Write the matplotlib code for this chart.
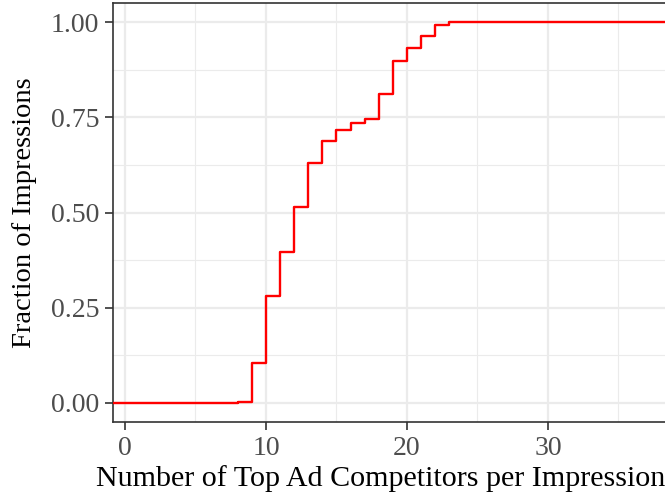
import numpy as np
import matplotlib
matplotlib.use('Agg')
import matplotlib.pyplot as plt
from matplotlib.ticker import MultipleLocator

plt.rcParams['font.family'] = ['Liberation Serif', 'DejaVu Serif']

# ECDF levels of competitors per impression
competitors = [8, 9, 10, 11, 12, 13, 14, 15, 16, 17, 18, 19, 20, 21, 22, 23]
fraction = [0.003, 0.106, 0.281, 0.397, 0.515, 0.629, 0.689, 0.716,
            0.735, 0.745, 0.810, 0.898, 0.933, 0.964, 0.991, 1.0]

x_lo, x_hi = -0.85, 40.0

fig = plt.figure(figsize=(6.65, 4.95), dpi=100)
ax = fig.add_axes([113 / 665, 73 / 495, 576 / 665, 419 / 495])

xs = [x_lo] + competitors + [x_hi]
ys = [0.0] + fraction + [fraction[-1]]
ax.step(xs, ys, where='post', color='#FF0000', lw=1.7, zorder=3)

ax.set_xlim(x_lo, x_hi)
ax.set_ylim(-0.05, 1.05)

ax.xaxis.set_major_locator(MultipleLocator(10))
ax.xaxis.set_minor_locator(MultipleLocator(5))
ax.yaxis.set_major_locator(MultipleLocator(0.25))
ax.yaxis.set_minor_locator(MultipleLocator(0.125))
ax.yaxis.set_major_formatter(plt.FuncFormatter(lambda v, p: f'{v:.2f}'))

ax.grid(which='major', color='#EBEBEB', lw=1.6)
ax.grid(which='minor', color='#EBEBEB', lw=0.8)
ax.set_axisbelow(True)

for s in ax.spines.values():
    s.set_color('#333333')
    s.set_linewidth(1.2)

ax.tick_params(which='major', length=6, width=1.2, color='#333333',
               labelsize=20, labelcolor='#4D4D4D', pad=4)
ax.tick_params(which='minor', length=0)

ax.set_ylabel('Fraction of Impressions', fontsize=20.5, color='black')
ax.yaxis.set_label_coords((37 - 113) / 576, 0.5)
ax.set_xlabel('Number of Top Ad Competitors per Impression', fontsize=21.6,
              color='black', ha='left', va='baseline')
ax.xaxis.set_label_coords((96 - 113) / 576, -64 / 419)

fig.savefig('out.png', dpi=100)
